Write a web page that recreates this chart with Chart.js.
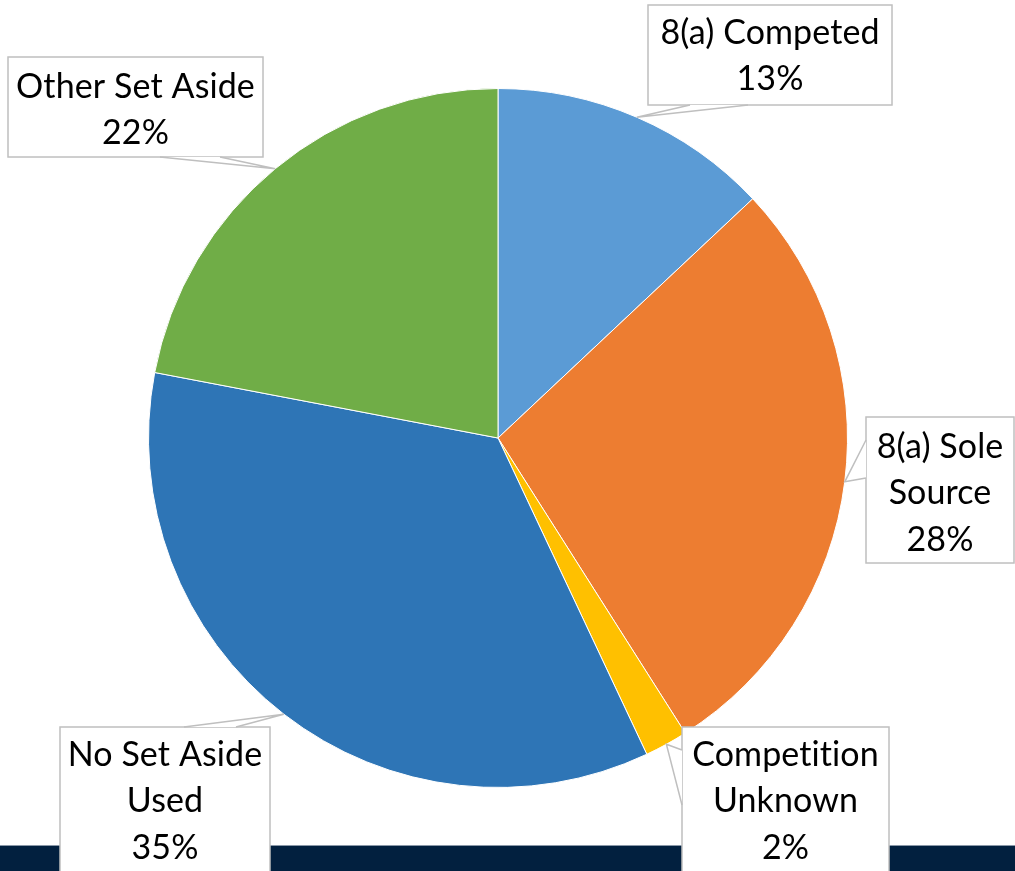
<!DOCTYPE html>
<html>
<head>
<meta charset="utf-8">
<script src="https://cdn.jsdelivr.net/npm/chart.js@4"></script>
<style>
  html, body { margin: 0; padding: 0; background: #ffffff; }
  #wrap { position: relative; width: 1015px; height: 871px; }
</style>
</head>
<body>
<div id="wrap"><canvas id="pie" width="1015" height="871"></canvas></div>
<script>
// data (clockwise from 12 o'clock)
const categories = ['8(a) Competed', '8(a) Sole Source', 'Competition Unknown', 'No Set Aside Used', 'Other Set Aside'];
const shares = [13, 28, 2, 35, 22];
const sliceColors = ['#5B9BD5', '#ED7D31', '#FFC000', '#2E75B6', '#70AD47'];
// how each label is wrapped in its box
const labelLines = [['8(a) Competed'], ['8(a) Sole', 'Source'], ['Competition', 'Unknown'], ['No Set Aside', 'Used'], ['Other Set Aside']];

// callout boxes: box rect + where the pointer leaves the box
const callouts = [
  { x: 648, y: 5, w: 244, h: 100, base: [[690, 105], [748, 105]] },
  { x: 866, y: 417, w: 148, h: 146, base: [[866, 440], [866, 478]] },
  { x: 682, y: 727, w: 207, h: 160, base: [[682, 750], [682, 805]] },
  { x: 60, y: 727, w: 210, h: 160, base: [[184, 727], [236, 727]] },
  { x: 8, y: 57, w: 255, h: 100, base: [[160, 157], [220, 157]] }
];

const bandPlugin = {
  id: 'band',
  beforeDraw(chart) {
    const c = chart.ctx;
    c.save();
    c.fillStyle = '#8a98a8';
    c.fillRect(0, 845, chart.width, 1);
    c.fillStyle = '#02203F';
    c.fillRect(0, 846, chart.width, chart.height - 846);
    c.restore();
  }
};

const calloutPlugin = {
  id: 'callouts',
  afterDatasetsDraw(chart) {
    const c = chart.ctx;
    const arcs = chart.getDatasetMeta(0).data;
    c.save();
    arcs.forEach((arc, i) => {
      const b = callouts[i];
      const mid = (arc.startAngle + arc.endAngle) / 2;
      const tx = arc.x + Math.cos(mid) * arc.outerRadius;
      const ty = arc.y + Math.sin(mid) * arc.outerRadius;

      // box
      c.fillStyle = '#ffffff';
      c.strokeStyle = '#BFBFBF';
      c.lineWidth = 1.5;
      c.fillRect(b.x, b.y, b.w, b.h);
      c.strokeRect(b.x, b.y, b.w, b.h);

      // pointer wedge
      c.beginPath();
      c.moveTo(b.base[0][0], b.base[0][1]);
      c.lineTo(tx, ty);
      c.lineTo(b.base[1][0], b.base[1][1]);
      c.closePath();
      c.fill();
      c.beginPath();
      c.moveTo(b.base[0][0], b.base[0][1]);
      c.lineTo(tx, ty);
      c.lineTo(b.base[1][0], b.base[1][1]);
      c.stroke();

      // text
      const lines = labelLines[i].concat([shares[i] + '%']);
      c.fillStyle = '#000000';
      c.font = '34px Lato, "Open Sans", sans-serif';
      c.letterSpacing = '0.1px'; // keeps Lato from joining "ti"
      c.textAlign = 'center';
      c.textBaseline = 'middle';
      const lh = 46.5;
      const y0 = i === 0 ? 33 : i === 4 ? 87 : i === 1 ? 447 : 755;
      lines.forEach((t, k) => c.fillText(t, b.x + b.w / 2, y0 + k * lh));
    });
    c.restore();
  }
};

new Chart(document.getElementById('pie'), {
  type: 'pie',
  data: {
    labels: categories,
    datasets: [{
      data: shares,
      backgroundColor: sliceColors,
      borderColor: '#ffffff',
      borderWidth: 1
    }]
  },
  options: {
    responsive: false,
    animation: false,
    layout: { padding: { left: 148, top: 88, right: 167, bottom: 83 } },
    plugins: { legend: { display: false }, tooltip: { enabled: false } }
  },
  plugins: [bandPlugin, calloutPlugin]
});
</script>
</body>
</html>
